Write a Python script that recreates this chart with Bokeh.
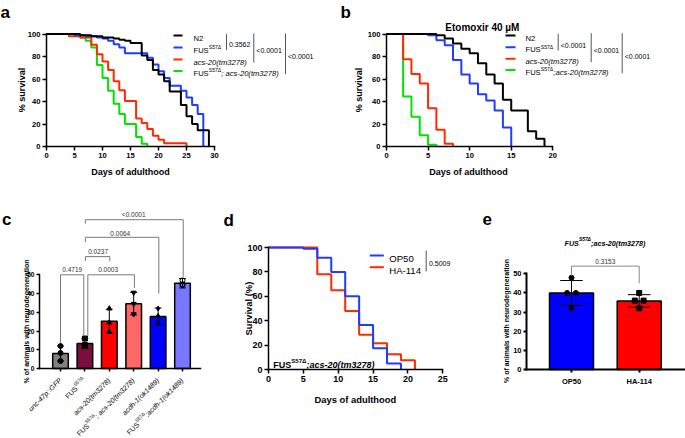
import math
from bokeh.plotting import figure
from bokeh.layouts import row, column
from bokeh.models import Range1d, FixedTicker, Label
from bokeh.embed import file_html
from bokeh.resources import INLINE

FONT = "Liberation Sans"

# ------------------------------------------------------------------ data
# panel a : lifespan
a_labels = ["N2", "FUS|^S57Δ", "_acs-20(tm3278)", "FUS|^S57Δ|_; acs-20(tm3278)"]
a_colors = ["#000000", "#1F3CFF", "#FF2A00", "#00E400"]
a_n2_days = [0, 6, 8, 10, 12, 13, 14, 15, 17, 18, 19, 20, 21, 22, 24, 25, 26, 27, 29]
a_n2_surv = [100, 99, 98, 97, 96, 95, 94, 92, 81, 77, 68, 64, 58, 49, 37, 27, 20, 14.5, 0]
a_fus_days = [0, 5, 7, 9, 10, 11, 12, 13, 14, 18, 19, 20, 21, 22, 24, 25, 26, 27, 28]
a_fus_surv = [100, 99, 98, 97, 96, 94, 91, 88, 83, 79, 73, 67, 61, 54, 49.5, 43.5, 37, 29, 0]
a_acs_days = [0, 4, 6, 8, 9, 10, 11, 12, 13, 14, 16, 17, 18, 19, 20, 21, 25]
a_acs_surv = [100, 98, 97, 90.5, 82, 75.5, 68, 58, 50, 40.5, 25, 21, 15.5, 9.5, 6, 3, 0]
a_dbl_days = [0, 6, 7, 8, 9, 10, 11, 12, 13, 14, 16, 17, 18]
a_dbl_surv = [100, 97, 94, 88, 72.5, 61, 49.5, 38, 29, 20, 8.5, 2.5, 0]
a_pvals = ["0.3562", "<0.0001", "<0.0001"]
a_xticks = [0, 5, 10, 15, 20, 25, 30]
surv_yticks = [0, 20, 40, 60, 80, 100]

# panel b : lifespan on etomoxir
b_title = "Etomoxir 40 µM"
b_labels = ["N2", "FUS|^S57Δ", "_acs-20(tm3278)", "FUS|^S57Δ|_;acs-20(tm3278)"]
b_n2_days = [0, 6, 7, 8, 9, 10, 11, 12, 13, 14, 15, 17, 18, 19]
b_n2_surv = [100, 99, 96, 91.5, 87, 83, 74, 64, 56, 41.5, 32, 13.5, 7, 0]
b_fus_days = [0, 5, 6, 7, 8, 9, 10, 11, 12, 13, 14, 15]
b_fus_surv = [100, 99, 94.5, 90, 77, 64, 56, 46.5, 41, 32, 17, 0]
b_acs_days = [0, 2, 3, 4, 5, 6, 7, 8]
b_acs_surv = [100, 77.5, 64.5, 56, 34, 15, 2.5, 0]
b_dbl_days = [0, 2, 3, 4, 5, 6]
b_dbl_surv = [100, 44.5, 26.5, 10, 1.5, 0]
b_pvals = ["<0.0001", "<0.0001", "<0.0001"]
b_xticks = [0, 5, 10, 15, 20]

# panel c : neurodegeneration
c_names = ["_unc-47p::GFP", "FUS|^S57Δ", "_acs-20(tm3278)",
           "FUS|^S57Δ|_; acs-20(tm3278)", "_acdh-1(ok1489)", "FUS|^S57Δ|_;acdh-1(ok1489)"]
c_colors = ["#808080", "#7A0F3F", "#FF0000", "#FF6666", "#0000FF", "#7777FF"]
c_mean = [8, 13.3, 25.2, 34.6, 27.8, 45.5]
c_sd = [4, 2.7, 6.4, 6, 4.5, 2.5]
c_points = [[12, 8.3, 4], [16, 12.5, 12], [32, 24.5, 19.5],
            [40.5, 34.5, 29], [32, 28, 24.5], [47, 45, 44.5]]
c_markers = ["circle", "square", "triangle", "inverted_triangle", "diamond", "circle"]
c_pairs = [(1, 2), (2, 4), (2, 3), (2, 5), (2, 6)]
c_pvals = ["0.4719", "0.0003", "0.0237", "0.0064", "<0.0001"]
c_yticks = [0, 10, 20, 30, 40, 50]

# panel d : lifespan with HA-114
d_labels = ["OP50", "HA-114"]
d_colors = ["#1F3CFF", "#FF2A00"]
d_op_days = [0, 5, 7, 9, 11, 13, 15, 17, 19]
d_op_surv = [100, 99, 91.5, 80, 60, 36.5, 17.5, 5, 0]
d_ha_days = [0, 7, 9, 11, 13, 15, 17, 19, 21]
d_ha_surv = [100, 78, 65, 48, 28.5, 21.5, 12.5, 7.5, 0]
d_pval = "0.5009"
d_strain = "FUS|^S57Δ|_;acs-20(tm3278)"
d_xticks = [0, 5, 10, 15, 20, 25]

# panel e : neurodegeneration with HA-114
e_title = "FUS|^S57Δ|;acs-20(tm3278)"
e_groups = ["OP50", "HA-114"]
e_colors = ["#0000FF", "#FF0000"]
e_mean = [40, 35.8]
e_sd = [6.5, 3.3]
e_points = [[48, 40, 40, 32], [40, 36, 36, 32]]
e_markers = ["circle", "square"]
e_pval = "0.3153"

# ------------------------------------------------------------------ helpers
WR = {' ': 278, '!': 278, '%': 889, '(': 333, ')': 333, '-': 333, '.': 278, ':': 278, ';': 278,
      '<': 584, 'A': 667, 'B': 667, 'C': 722, 'D': 722, 'E': 667, 'F': 611, 'G': 778, 'H': 722,
      'I': 278, 'M': 833, 'N': 722, 'O': 778, 'P': 667, 'S': 667, 'U': 722,
      'a': 556, 'b': 556, 'c': 500, 'd': 556, 'e': 556, 'f': 278, 'g': 556, 'h': 556, 'i': 222,
      'k': 500, 'l': 222, 'm': 833, 'n': 556, 'o': 556, 'p': 556, 'r': 333, 's': 500, 't': 278,
      'u': 556, 'v': 500, 'w': 722, 'x': 500, 'y': 500, 'Δ': 668, 'µ': 556}
WB = {' ': 278, '%': 889, '(': 333, ')': 333, '-': 333, '.': 278, ':': 333, ';': 333, '<': 584,
      'A': 722, 'D': 722, 'E': 667, 'F': 611, 'G': 778, 'H': 722, 'M': 833, 'O': 778, 'P': 667,
      'S': 667, 'U': 722, 'a': 556, 'b': 611, 'c': 556, 'd': 611, 'e': 556, 'f': 333, 'g': 611,
      'h': 611, 'i': 278, 'k': 556, 'l': 278, 'm': 889, 'n': 611, 'o': 611, 'p': 611, 'r': 389,
      's': 556, 't': 333, 'u': 611, 'v': 556, 'w': 778, 'x': 556, 'y': 556, 'Δ': 708, 'µ': 611}


def text_w(t, size, bold):
    tab = WB if bold else WR
    return sum(tab.get(ch, 556) for ch in t) * size / 1000.0


def parse(markup):
    out = []
    for seg in markup.split("|"):
        sup = ital = False
        while seg and seg[0] in "^_":
            if seg[0] == "^":
                sup = True
            else:
                ital = True
            seg = seg[1:]
        out.append((seg, sup, ital))
    return out


class Panel:
    """A figure whose frame fills the whole canvas; axes sit at fixed data locations."""

    def __init__(self, ox, oy, w, h, xanc, yanc):
        (self.x1, self.px1), (x2, px2) = xanc
        (self.y1, self.py1), (y2, py2) = yanc
        self.sx = (x2 - self.x1) / (px2 - self.px1)
        self.sy = (y2 - self.y1) / (py2 - self.py1)
        self.fl = ox
        self.fb = oy + h
        self.p = figure(width=w, height=h,
                        x_range=Range1d(self.X(ox), self.X(ox + w)),
                        y_range=Range1d(self.Y(oy + h), self.Y(oy)),
                        min_border=0, min_border_left=0, min_border_right=0,
                        min_border_top=0, min_border_bottom=0, output_backend="svg",
                        toolbar_location=None, title=None)
        p = self.p
        p.outline_line_color = None
        p.xgrid.visible = False
        p.ygrid.visible = False
        p.background_fill_color = "white"
        p.border_fill_color = "white"

    def X(self, px):
        return self.x1 + (px - self.px1) * self.sx

    def Y(self, py):
        return self.y1 + (py - self.py1) * self.sy

    def PX(self, x):
        return self.px1 + (x - self.x1) / self.sx

    def PY(self, y):
        return self.py1 + (y - self.y1) / self.sy


def rich(P, rx, ry, markup, size, bold=False, italic=False, angle=0.0, align="left",
         color="black", xo=0.0, yo=0.0, valign="middle", sup_scale=0.68):
    """Place (possibly multi-style) text with its anchor at page pixel (rx, ry)."""
    pieces = parse(markup)
    sizes = [size * sup_scale if s else size for (_, s, _) in pieces]
    widths = [text_w(t, fs, bold) for (t, _, _), fs in zip(pieces, sizes)]
    total = sum(widths)
    pos = {"left": 0.0, "center": -total / 2.0, "right": -total}[align]
    c, s = math.cos(angle), math.sin(angle)
    base = -0.35 * size if valign == "middle" else 0.0
    sx0 = rx - P.fl + xo
    sy0 = P.fb - ry + yo
    for (t, sup, it), fs, w in zip(pieces, sizes, widths):
        rise = base + (0.42 * size if sup else 0.0)
        ox = pos * c - rise * s
        oy = pos * s + rise * c
        style = ("bold " if bold else "") + ("italic" if (it or italic) else "")
        style = style.strip() or "normal"
        P.p.add_layout(Label(x=sx0 + ox, y=sy0 + oy, x_units="screen", y_units="screen",
                             text=t, angle=angle, text_align="left",
                             text_baseline="alphabetic", text_font=FONT,
                             text_font_size="%.2fpx" % fs, text_font_style=style,
                             text_color=color))
        pos += w


def style_axes(p, xticks, yticks, xb, yb, xloc, yloc, fs, lw=1.5, xoverrides=None, tick=4):
    p.xaxis.ticker = FixedTicker(ticks=xticks, minor_ticks=[])
    p.yaxis.ticker = FixedTicker(ticks=yticks, minor_ticks=[])
    p.xaxis.bounds = xb
    p.yaxis.bounds = yb
    p.xaxis.fixed_location = yloc
    p.yaxis.fixed_location = xloc
    for ax in (p.xaxis[0], p.yaxis[0]):
        ax.axis_line_width = lw
        ax.axis_line_color = "black"
        ax.axis_line_cap = "square"
        ax.major_tick_line_width = lw
        ax.major_tick_line_color = "black"
        ax.major_tick_out = tick
        ax.major_tick_in = 0
        ax.minor_tick_line_color = None
        ax.major_label_text_font = FONT
        ax.major_label_text_font_style = "bold"
        ax.major_label_text_font_size = fs
        ax.major_label_text_color = "black"
        ax.major_label_standoff = 2
    if xoverrides is not None:
        p.xaxis[0].major_label_overrides = xoverrides


def whiskers(p, xs, mean, sd, half):
    lo = [m - s for m, s in zip(mean, sd)]
    hi = [m + s for m, s in zip(mean, sd)]
    p.segment(xs, lo, xs, hi, line_color="black", line_width=1)
    p.segment([x - half for x in xs], hi, [x + half for x in xs], hi, line_color="black", line_width=1)
    p.segment([x - half for x in xs], lo, [x + half for x in xs], lo, line_color="black", line_width=1)


GRAY = "#555555"
TOP_H = 181          # height of the upper row of panels
BOT_H = 438 - TOP_H  # height of the lower row

# ------------------------------------------------------------------ panel a
A = Panel(0, 0, 340, TOP_H, ((0, 46), (30, 214)), ((0, 146), (100, 33.5)))
pa = A.p
style_axes(pa, a_xticks, surv_yticks, (0, 30), (0, 100), 0, 0, "7.6px")
for d, s, col in [(a_dbl_days, a_dbl_surv, a_colors[3]), (a_acs_days, a_acs_surv, a_colors[2]),
                  (a_fus_days, a_fus_surv, a_colors[1]), (a_n2_days, a_n2_surv, a_colors[0])]:
    pa.step(d, s, mode="after", line_color=col, line_width=2)
rows_a = [35, 47, 59, 70.5]
pa.segment([A.X(173)] * 4, [A.Y(r) for r in rows_a], [A.X(182)] * 4, [A.Y(r) for r in rows_a],
           line_color=a_colors, line_width=2)
for r, lab in zip(rows_a, a_labels):
    rich(A, 193, r, lab, 7.6)
for (bx, y0, y1, ty), pv in zip([(226, 33.5, 49.5, 41.5), (253.3, 33, 62, 47.3), (285, 33, 73.5, 53.3)], a_pvals):
    pa.segment([A.X(bx)], [A.Y(y0)], [A.X(bx)], [A.Y(y1)], line_color=GRAY, line_width=1)
    rich(A, bx + 2.5, ty, pv, 7)
rich(A, 18.3, 89.5, "% survival", 9, bold=True, angle=math.pi / 2, align="center")
rich(A, 130, 168.5, "Days of adulthood", 9, bold=True, align="center")
rich(A, 0, 11.5, "a", 17, bold=True, valign="baseline")

# ------------------------------------------------------------------ panel b
B = Panel(340, 0, 345, TOP_H, ((0, 386), (20, 552.3)), ((0, 146), (100, 33.5)))
pb = B.p
style_axes(pb, b_xticks, surv_yticks, (0, 20), (0, 100), 0, 0, "7.6px")
for d, s, col in [(b_dbl_days, b_dbl_surv, a_colors[3]), (b_acs_days, b_acs_surv, a_colors[2]),
                  (b_fus_days, b_fus_surv, a_colors[1]), (b_n2_days, b_n2_surv, a_colors[0])]:
    pb.step(d, s, mode="after", line_color=col, line_width=2)
rows_b = [35, 46.7, 58.3, 69.5]
pb.segment([B.X(505)] * 4, [B.Y(r) for r in rows_b], [B.X(515)] * 4, [B.Y(r) for r in rows_b],
           line_color=a_colors, line_width=2)
for r, lab in zip(rows_b, b_labels):
    rich(B, 525, r, lab, 7.6)
for (bx, y0, y1, ty), pv in zip([(557.7, 33.3, 50, 42.7), (590.7, 32.7, 61.7, 47.3), (621.7, 32.7, 72.7, 53.3)], b_pvals):
    pb.segment([B.X(bx)], [B.Y(y0)], [B.X(bx)], [B.Y(y1)], line_color=GRAY, line_width=1)
    rich(B, bx + 2.5, ty, pv, 7)
rich(B, 482, 23.3, b_title, 10, bold=True, align="center")
rich(B, 355.5, 89.5, "% survival", 9, bold=True, angle=math.pi / 2, align="center")
rich(B, 468, 168.5, "Days of adulthood", 9, bold=True, align="center")
rich(B, 340, 12, "b", 17, bold=True, valign="baseline")

# ------------------------------------------------------------------ panel c
C = Panel(0, TOP_H, 222, BOT_H, ((1, 60), (6, 182)), ((0, 368), (50, 274.3)))
pc = C.p
cx = list(range(1, len(c_mean) + 1))
style_axes(pc, cx, c_yticks, (C.X(39), C.X(200)), (0, 50), C.X(39), 0, "6.6px", tick=3,
           xoverrides={i: "" for i in cx})
pc.vbar(x=cx, top=c_mean, width=0.64, fill_color=c_colors, line_color="black", line_width=1.5)
whiskers(pc, cx, c_mean, c_sd, 0.14)
for x, pts, mk in zip(cx, c_points, c_markers):
    hollow = (x == len(cx))
    pc.scatter([x] * len(pts), pts, marker=mk, size=5, line_color="black",
               fill_color="black", fill_alpha=0 if hollow else 1, line_width=1)
c_geom = [(1.0, 1.955, 50, 13.5, 17.5, 1.48, 53.8),
          (2.12, 4.03, 50, 17.5, 43, 2.95, 53.8),
          (2.02, 3.02, 59.7, 57.3, 57.3, 2.54, 63.7),
          (2.02, 5.03, 70, 67.5, 40, 3.45, 73.4),
          (2.02, 6.03, 79.4, 77.3, 49, 4.0, 83.5)]
for (xl, xr, top, yl, yr, tx, ty), pv in zip(c_geom, c_pvals):
    pc.multi_line([[xl, xl, xr, xr]], [[yl, top, top, yr]], line_color="#7A7A7A", line_width=1)
    rich(C, C.PX(tx), C.PY(ty), pv, 6.5, align="center", color="#333333")
for x, lab in zip(cx, c_names):
    rich(C, C.PX(x), C.PY(0), lab, 7, angle=math.pi / 4, align="right", xo=-2, yo=-9)
rich(C, 23.3, 321, "% of animals with neurodegeneration", 7, bold=True,
     angle=math.pi / 2, align="center")
rich(C, 1.5, 219, "c", 17, bold=True, valign="baseline")

# ------------------------------------------------------------------ panel d
D = Panel(222, TOP_H, 238, BOT_H, ((0, 268), (25, 442.3)), ((0, 369), (100, 247)))
pd = D.p
style_axes(pd, d_xticks, surv_yticks, (0, 25), (0, 100), 0, 0, "9px")
pd.step(d_ha_days, d_ha_surv, mode="after", line_color=d_colors[1], line_width=2)
pd.step(d_op_days, d_op_surv, mode="after", line_color=d_colors[0], line_width=2)
rows_d = [255, 266.7]
pd.segment([D.X(369.3)] * 2, [D.Y(r) for r in rows_d], [D.X(383.3)] * 2, [D.Y(r) for r in rows_d],
           line_color=d_colors, line_width=2)
for r, lab in zip(rows_d, d_labels):
    rich(D, 388.7, r, lab, 9.6)
pd.segment([D.X(425.7)], [D.Y(250)], [D.X(425.7)], [D.Y(271)], line_color=GRAY, line_width=1)
rich(D, 428.5, 260.5, d_pval, 7)
rich(D, 272.7, 361, d_strain, 9, bold=True)
rich(D, 245, 308, "Survival (%)", 9.4, bold=True, angle=math.pi / 2, align="center")
rich(D, 355, 396, "Days of adulthood", 9.4, bold=True, align="center")
rich(D, 223, 220, "d", 17, bold=True, valign="baseline")

# ------------------------------------------------------------------ panel e
E = Panel(460, TOP_H, 225, BOT_H, ((1, 571), (2, 638.7)), ((0, 369), (50, 273.3)))
pe = E.p
ex = list(range(1, len(e_mean) + 1))
style_axes(pe, ex, c_yticks, (E.X(526), E.X(684)), (0, 50), E.X(526), 0, "7.5px", lw=2, tick=3,
           xoverrides={i: g for i, g in zip(ex, e_groups)})
pe.xaxis[0].major_label_standoff = 4
pe.vbar(x=ex, top=e_mean, width=0.65, fill_color=e_colors, line_color="black", line_width=1.5)
whiskers(pe, ex, e_mean, e_sd, 0.167)
JIT = [0, -0.065, 0.065, 0]
for x, pts, mk in zip(ex, e_points, e_markers):
    pe.scatter([x + j for j in JIT], pts, marker=mk, size=5, line_color="black", fill_color="black")
pe.multi_line([[1, 1, 2, 2]], [[49, 54, 54, 45]], line_color="#8A8A8A", line_width=1)
rich(E, E.PX(1.5), E.PY(57.6), e_pval, 6.6, align="center", color="#333333")
rich(E, 604.5, 240, e_title, 7.2, bold=True, italic=True, align="center")
rich(E, 503.3, 320.5, "% of animals with neurodegeneration", 7, bold=True,
     angle=math.pi / 2, align="center")
rich(E, 482, 218, "e", 17, bold=True, valign="baseline")

layout = column(row(pa, pb), row(pc, pd, pe))
open("out.html", "w").write(file_html(layout, INLINE))
